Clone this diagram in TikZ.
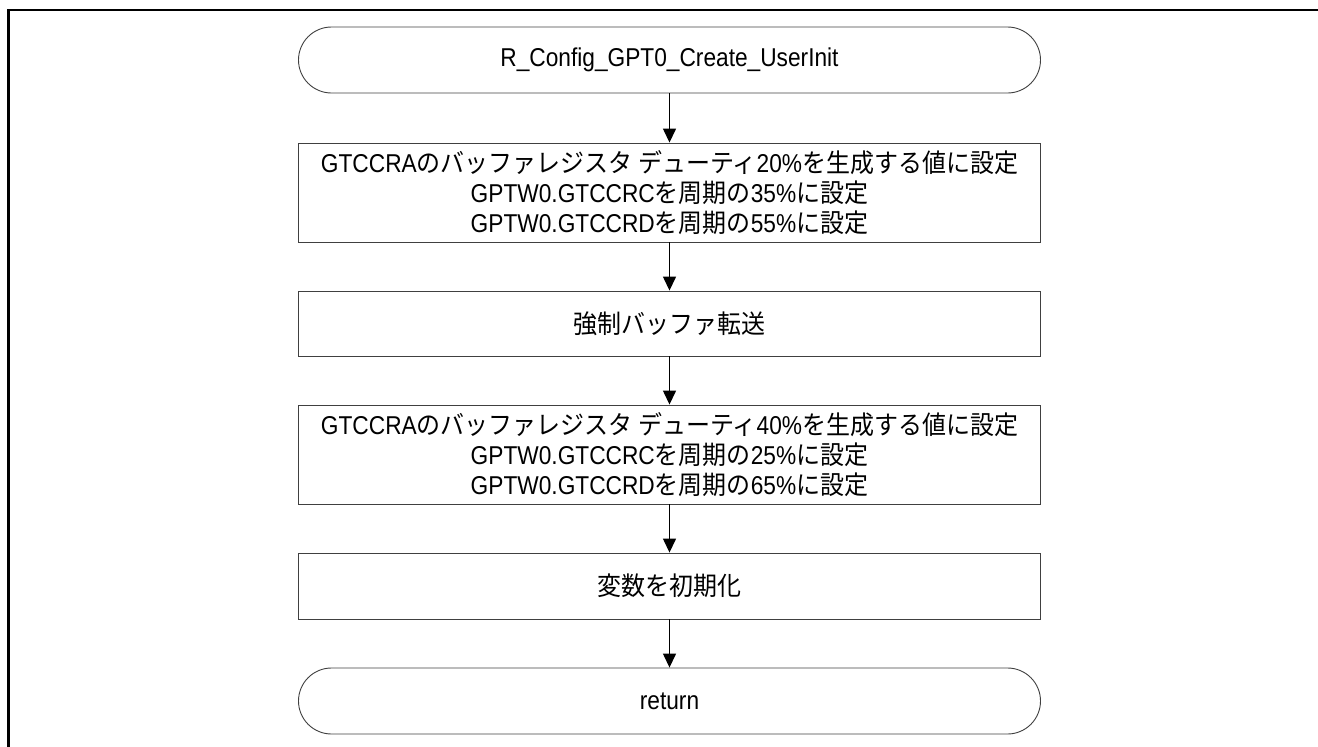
\documentclass[tikz,border=0pt]{standalone}
\usepackage{fontspec}
\setmainfont{Liberation Sans}[FakeStretch=0.88]
\newfontfamily\jp{Noto Sans CJK JP}[FakeStretch=0.93]
\usetikzlibrary{arrows.meta}
\tikzset{
  proc/.style={draw=black!75, line width=0.9pt, minimum width=742pt, inner sep=0pt, align=center, font=\fontsize{25.8}{30}\selectfont},
  term/.style={proc, rounded corners=33pt, minimum height=66pt},
  arr/.style={line width=1.4pt, -{Triangle[width=13pt,length=14pt]}},
  frame/.style={line width=2.5pt, black}
}
\begin{document}
\begin{tikzpicture}[x=1pt,y=-1pt]
\useasboundingbox (0,0) rectangle (1318,747);
\clip (0,0) rectangle (1318,747);
\draw[frame] (8.7,760) -- (8.7,10) -- (1330,10);
\node[term] (start) at (669.5,60) {R\_Config\_GPT0\_Create\_UserInit};
\node[proc, minimum height=99pt] (b1) at (669.5,192.5) {GTCCRA{\jp のバッファレジスタ デューティ}20\%{\jp を生成する値に設定}\\GPTW0.GTCCRC{\jp を周期の}35\%{\jp に設定}\\GPTW0.GTCCRD{\jp を周期の}55\%{\jp に設定}};
\node[proc, minimum height=65pt] (b2) at (669.5,323.5) {{\jp 強制バッファ転送}};
\node[proc, minimum height=99pt] (b3) at (669.5,454.5) {GTCCRA{\jp のバッファレジスタ デューティ}40\%{\jp を生成する値に設定}\\GPTW0.GTCCRC{\jp を周期の}25\%{\jp に設定}\\GPTW0.GTCCRD{\jp を周期の}65\%{\jp に設定}};
\node[proc, minimum height=66pt] (b4) at (669.5,586) {{\jp 変数を初期化}};
\node[term] (end) at (669.5,701) {return};
\draw[arr] (start) -- (b1);
\draw[arr] (b1) -- (b2);
\draw[arr] (b2) -- (b3);
\draw[arr] (b3) -- (b4);
\draw[arr] (b4) -- (end);
\end{tikzpicture}
\end{document}
